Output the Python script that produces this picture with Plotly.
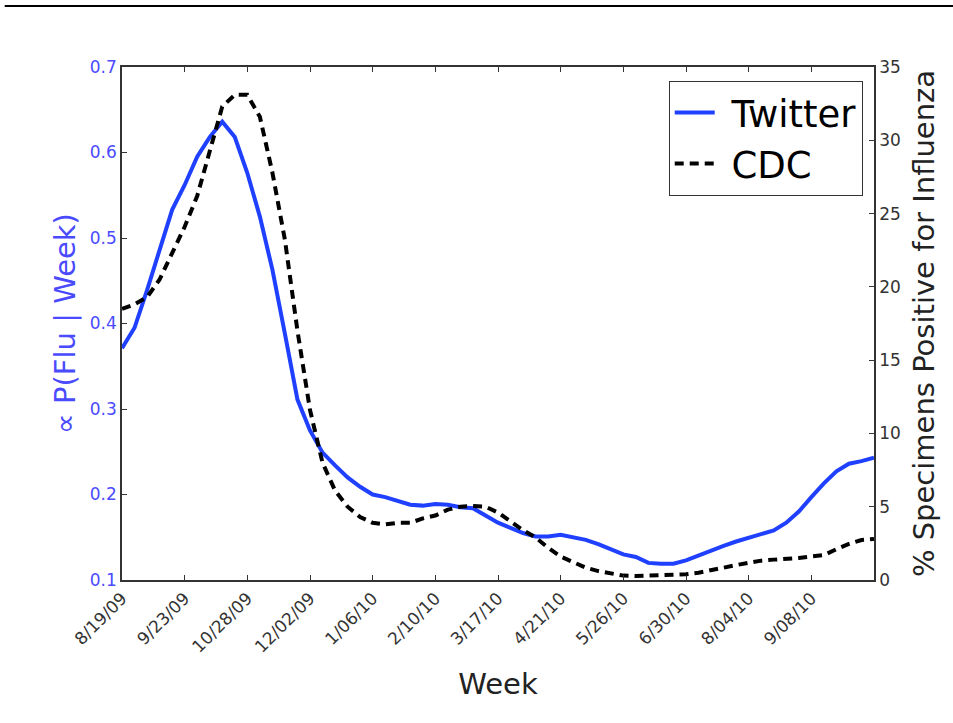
import plotly.graph_objects as go
import pandas as pd

weeks = pd.date_range("2009-08-19", periods=61, freq="7D")

twitter = [0.371, 0.395, 0.439, 0.488, 0.533, 0.562, 0.595, 0.618, 0.636, 0.618,
           0.576, 0.525, 0.463, 0.388, 0.311, 0.275, 0.249, 0.234, 0.220, 0.209,
           0.200, 0.197, 0.193, 0.188, 0.187, 0.189, 0.188, 0.185, 0.184, 0.176,
           0.167, 0.161, 0.155, 0.151, 0.151, 0.153, 0.150, 0.147, 0.142, 0.136,
           0.130, 0.127, 0.120, 0.119, 0.119, 0.123, 0.129, 0.135, 0.140, 0.145,
           0.149, 0.153, 0.158, 0.167, 0.180, 0.197, 0.213, 0.227, 0.236, 0.239,
           0.243]

cdc = [18.5, 18.8, 19.3, 20.5, 22.3, 24.1, 26.2, 29.3, 32.3, 33.1,
       33.1, 31.6, 27.8, 23.2, 17.0, 11.6, 8.0, 6.1, 5.0, 4.3,
       3.9, 3.8, 3.9, 3.9, 4.2, 4.4, 4.8, 5.0, 5.05, 5.0,
       4.6, 4.0, 3.4, 2.9, 2.2, 1.6, 1.2, 0.84, 0.61, 0.45,
       0.3, 0.27, 0.3, 0.32, 0.32, 0.39, 0.5, 0.64, 0.84, 1.02,
       1.18, 1.32, 1.39, 1.43, 1.5, 1.6, 1.7, 2.1, 2.46, 2.73,
       2.8]

tick_labels = ["8/19/09", "9/23/09", "10/28/09", "12/02/09", "1/06/10", "2/10/10",
               "3/17/10", "4/21/10", "5/26/10", "6/30/10", "8/04/10", "9/08/10"]
tick_dates = [weeks[i * 5] for i in range(len(tick_labels))]

FONT = "DejaVu Sans"
BLUE = "#2040ff"
TICKBLUE = "#4a4aff"
DARK = "#333333"
PAD = "\u00a0"

fig = go.Figure()
fig.add_trace(go.Scatter(x=weeks, y=twitter, name=PAD + "Twitter", mode="lines",
                         line=dict(color=BLUE, width=4)))
fig.add_trace(go.Scatter(x=weeks, y=cdc, name=PAD + "CDC", mode="lines", yaxis="y2",
                         line=dict(color="black", width=4, dash="9px,6px")))

fig.update_layout(
    width=953, height=723,
    margin=dict(l=122, r=79, t=67, b=143),
    plot_bgcolor="white", paper_bgcolor="white",
    font=dict(family=FONT, color=DARK),
    showlegend=True,
    legend=dict(x=0.985, y=0.973, xanchor="right", yanchor="top",
                bgcolor="white", bordercolor="#333333", borderwidth=1,
                font=dict(family=FONT, size=37, color="black"),
                itemwidth=40, tracegroupgap=0),
    xaxis=dict(
        range=[weeks[0], weeks[-1]],
        tickvals=tick_dates, ticktext=tick_labels, tickangle=-45,
        ticks="inside", ticklen=5, tickcolor="#333333",
        showline=True, linecolor="#333333", linewidth=1.5, mirror="ticks",
        showgrid=False, zeroline=False,
        tickfont=dict(family=FONT, size=17, color=DARK),
        title=dict(text="Week", font=dict(family=FONT, size=29, color="#222222"), standoff=18),
    ),
    yaxis=dict(
        range=[0.1, 0.7], tickvals=[0.1, 0.2, 0.3, 0.4, 0.5, 0.6, 0.7],
        ticktext=["0.1", "0.2", "0.3", "0.4", "0.5", "0.6", "0.7"],
        ticks="inside", ticklen=5, tickcolor="#333333",
        showline=True, linecolor="#333333", linewidth=1.5,
        showgrid=False, zeroline=False,
        tickfont=dict(family=FONT, size=17, color=TICKBLUE),
        title=dict(text="∝ P(Flu | Week)", font=dict(family=FONT, size=29, color=TICKBLUE), standoff=6),
    ),
    yaxis2=dict(
        range=[0, 35], tickvals=[0, 5, 10, 15, 20, 25, 30, 35],
        overlaying="y", side="right",
        ticks="inside", ticklen=5, tickcolor="#333333",
        showline=True, linecolor="#333333", linewidth=1.5,
        showgrid=False, zeroline=False,
        tickfont=dict(family=FONT, size=17, color=DARK),
        title=dict(text="% Specimens Positive for Influenza", font=dict(family=FONT, size=29, color="#222222"), standoff=14),
    ),
    shapes=[dict(type="line", xref="paper", yref="paper",
                 x0=-0.156, x1=1.11, y0=1.119, y1=1.119,
                 line=dict(color="black", width=2))],
)

fig.write_html("out.html", config={"displayModeBar": False},
               post_script="document.body.style.margin='0';")
